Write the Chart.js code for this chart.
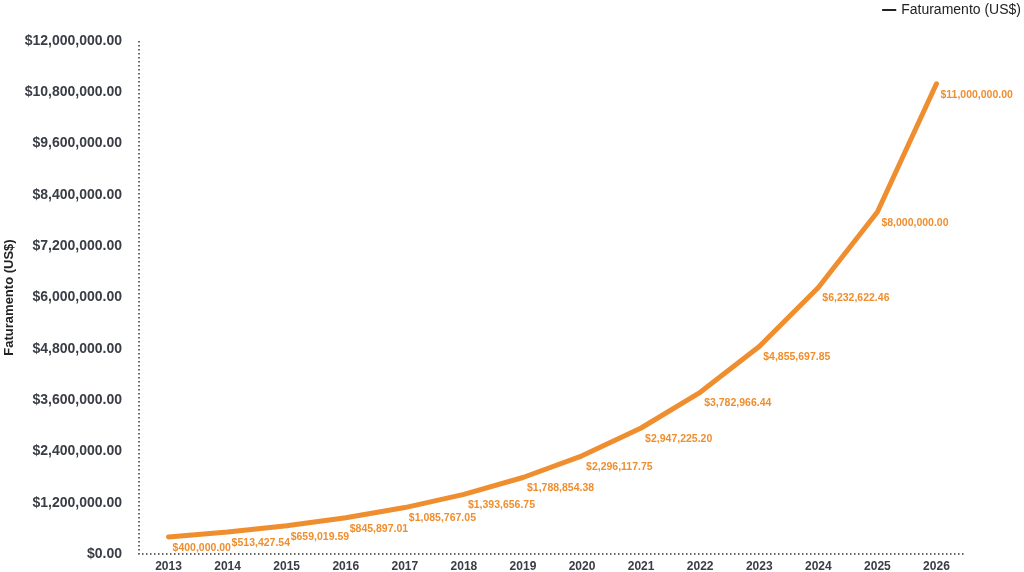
<!DOCTYPE html>
<html>
<head>
<meta charset="utf-8">
<script src="https://cdn.jsdelivr.net/npm/chart.js@4.4.1/dist/chart.umd.min.js"></script>
<style>
  html, body { margin: 0; padding: 0; background: #ffffff; }
  #wrap { width: 1024px; height: 572px; position: relative; }
</style>
</head>
<body>
<div id="wrap"><canvas id="c" width="1024" height="572"></canvas></div>
<script>
const years = ['2013','2014','2015','2016','2017','2018','2019','2020','2021','2022','2023','2024','2025','2026'];
const revenue = [400000, 513427.54, 659019.59, 845897.01, 1085767.05, 1393656.75, 1788854.38, 2296117.75, 2947225.20, 3782966.44, 4855697.85, 6232622.46, 8000000, 11000000];
const seriesName = 'Faturamento (US$)';
const yMin = 0, yMax = 12000000, yStep = 1200000;

const fmt = v => '$' + Number(v).toLocaleString('en-US', {minimumFractionDigits: 2, maximumFractionDigits: 2});
const ORANGE = '#EF8E2E';
const AXIS = '#3a3d45';
const FONT = '"Liberation Sans", Arial, Helvetica, sans-serif';

const legendMargin = {
  id: 'legendMargin',
  beforeInit(chart) {
    const orig = chart.legend.fit;
    chart.legend.fit = function () {
      orig.bind(chart.legend)();
      this.height += 14;
    };
  }
};

const dottedAxes = {
  id: 'dottedAxes',
  beforeDatasetsDraw(chart) {
    const {ctx, chartArea: a} = chart;
    ctx.save();
    ctx.strokeStyle = '#333333';
    ctx.lineWidth = 1.5;
    ctx.setLineDash([1.5, 2.5]);
    ctx.beginPath();
    ctx.moveTo(a.left, a.top);
    ctx.lineTo(a.left, a.bottom);
    ctx.lineTo(a.right, a.bottom);
    ctx.stroke();
    ctx.restore();
  }
};

const pointLabels = {
  id: 'pointLabels',
  afterDatasetsDraw(chart) {
    const ctx = chart.ctx;
    const meta = chart.getDatasetMeta(0);
    ctx.save();
    ctx.font = 'bold 10.5px ' + FONT;
    ctx.fillStyle = ORANGE;
    ctx.textAlign = 'left';
    ctx.textBaseline = 'middle';
    meta.data.forEach((pt, i) => {
      ctx.fillText(fmt(chart.data.datasets[0].data[i]), pt.x + 4, pt.y + 11);
    });
    ctx.restore();
  }
};

new Chart(document.getElementById('c'), {
  type: 'line',
  data: {
    labels: years,
    datasets: [{
      label: seriesName,
      data: revenue,
      borderColor: ORANGE,
      backgroundColor: ORANGE,
      borderWidth: 5,
      pointRadius: 0,
      tension: 0,
      borderCapStyle: 'round',
      borderJoinStyle: 'round',
      fill: false,
      clip: false
    }]
  },
  options: {
    responsive: false,
    animation: false,
    layout: { padding: 0 },
    plugins: {
      legend: {
        position: 'top',
        align: 'end',
        labels: {
          usePointStyle: true,
          pointStyle: 'line',
          boxWidth: 10,
          boxHeight: 10,
          padding: 3,
          color: '#222222',
          font: { family: FONT, size: 14 },
          generateLabels(chart) {
            const items = Chart.defaults.plugins.legend.labels.generateLabels(chart);
            items.forEach(it => { it.lineWidth = 2; it.strokeStyle = '#222222'; it.fillStyle = '#222222'; });
            return items;
          }
        }
      },
      tooltip: { enabled: false }
    },
    scales: {
      x: {
        type: 'category',
        offset: true,
        grid: { display: false, drawTicks: false },
        border: { display: false },
        ticks: { color: AXIS, padding: 5, font: { family: FONT, size: 12, weight: 'bold' } },
        afterFit: s => { s.height = 18; }
      },
      y: {
        min: yMin,
        max: yMax,
        grid: { display: false, drawTicks: false },
        border: { display: false },
        ticks: {
          stepSize: yStep,
          color: AXIS,
          padding: 17,
          font: { family: FONT, size: 14, weight: 'bold' },
          callback: v => fmt(v)
        },
        title: {
          display: true,
          text: seriesName,
          color: '#222222',
          padding: { top: 2, bottom: 8 },
          font: { family: FONT, size: 13, weight: 'bold' }
        },
        afterFit: s => { s.width = 139; s.paddingBottom = 0; }
      },
      yR: {
        position: 'right',
        display: true,
        grid: { display: false, drawTicks: false },
        border: { display: false },
        ticks: { display: false },
        afterFit: s => { s.width = 58; }
      }
    }
  },
  plugins: [legendMargin, dottedAxes, pointLabels]
});
</script>
</body>
</html>
